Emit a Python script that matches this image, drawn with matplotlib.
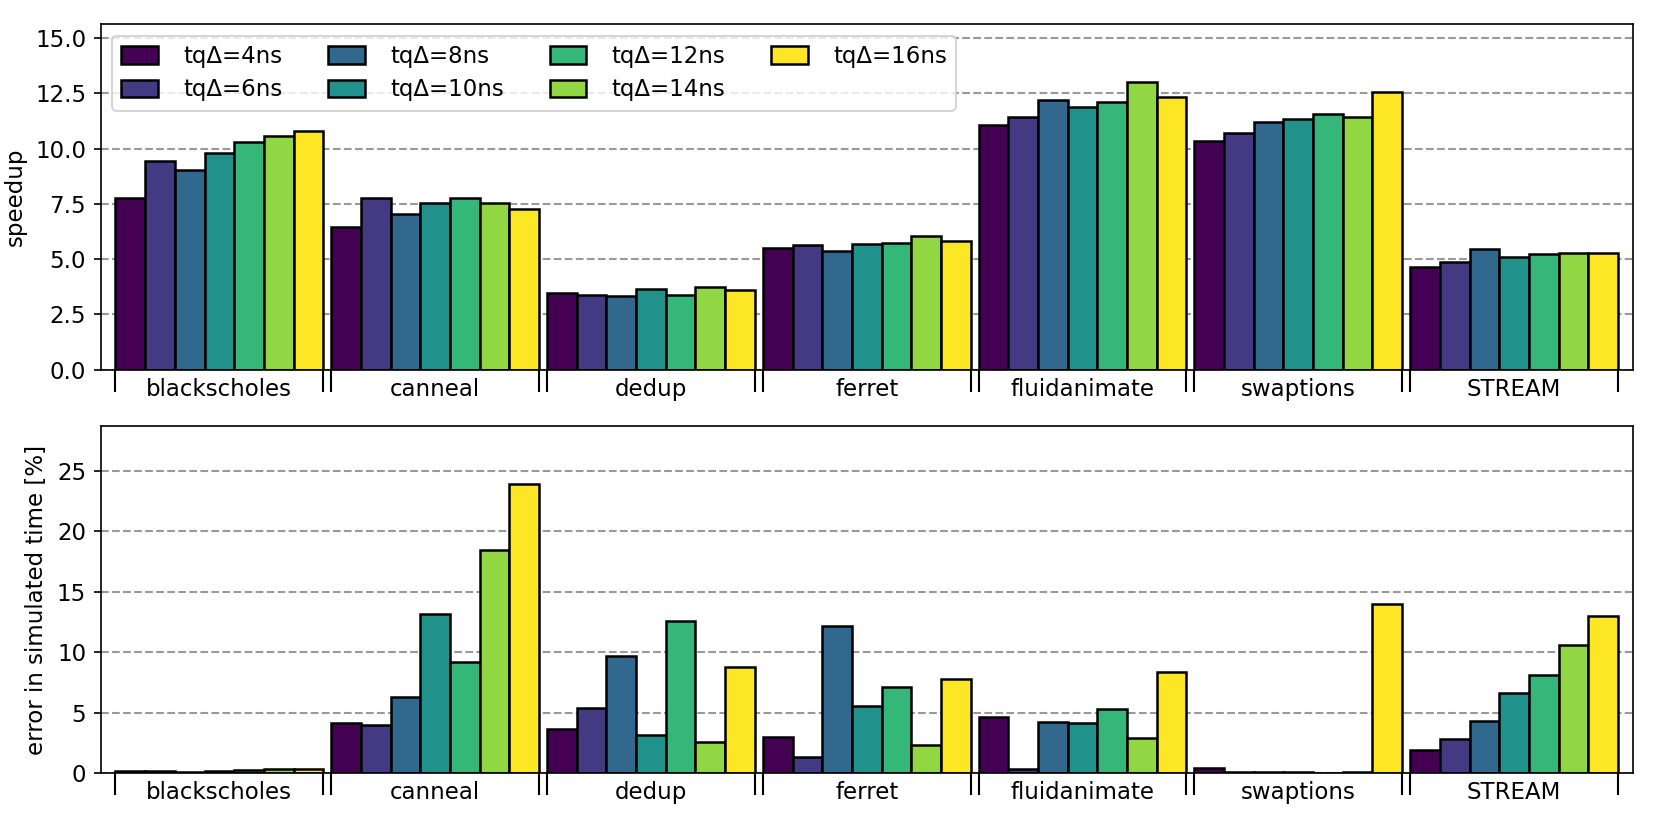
import numpy as np
import matplotlib
matplotlib.use("Agg")
import matplotlib.pyplot as plt
from matplotlib.ticker import MultipleLocator

plt.rcParams['font.size'] = 11

benchmarks = ["blackscholes", "canneal", "dedup", "ferret", "fluidanimate", "swaptions", "STREAM"]
quanta = ["tq\u0394=4ns", "tq\u0394=6ns", "tq\u0394=8ns", "tq\u0394=10ns",
          "tq\u0394=12ns", "tq\u0394=14ns", "tq\u0394=16ns"]

# speedup per benchmark, one list per quantum
speedup_4 = [7.79, 6.44, 3.46, 5.50, 11.07, 10.33, 4.64]
speedup_6 = [9.44, 7.75, 3.38, 5.62, 11.42, 10.73, 4.86]
speedup_8 = [9.02, 7.04, 3.34, 5.36, 12.19, 11.19, 5.48]
speedup_10 = [9.79, 7.54, 3.64, 5.68, 11.90, 11.33, 5.12]
speedup_12 = [10.30, 7.75, 3.40, 5.74, 12.10, 11.59, 5.23]
speedup_14 = [10.59, 7.54, 3.75, 6.07, 13.02, 11.44, 5.27]
speedup_16 = [10.80, 7.28, 3.61, 5.83, 12.33, 12.58, 5.29]

# error in simulated time [%]
error_4 = [0.20, 4.17, 3.67, 2.97, 4.61, 0.39, 1.94]
error_6 = [0.20, 4.00, 5.36, 1.33, 0.33, 0.05, 2.78]
error_8 = [0.10, 6.28, 9.67, 12.14, 4.19, 0.10, 4.28]
error_10 = [0.15, 13.19, 3.17, 5.58, 4.14, 0.10, 6.61]
error_12 = [0.28, 9.17, 12.56, 7.08, 5.28, 0.03, 8.11]
error_14 = [0.33, 18.50, 2.53, 2.28, 2.86, 0.10, 10.56]
error_16 = [0.35, 23.94, 8.75, 7.81, 8.33, 14.03, 13.03]

speedups = [speedup_4, speedup_6, speedup_8, speedup_10, speedup_12, speedup_14, speedup_16]
errors = [error_4, error_6, error_8, error_10, error_12, error_14, error_16]

colors = plt.cm.viridis(np.linspace(0, 1, len(quanta)))
x = np.arange(len(benchmarks))
width = 0.1375
n = len(quanta)
half = n * width / 2

fig = plt.figure(figsize=(1661 / 150, 830 / 150), dpi=150)
ax1 = fig.add_axes([0.0606, 0.5546, 0.983 - 0.0606, 0.9706 - 0.5546])
ax2 = fig.add_axes([0.0606, 0.0687, 0.983 - 0.0606, 0.4867 - 0.0687])


def draw(ax, data, ylabel, step):
    for i in range(n):
        ax.bar(x - half + width * (i + 0.5), data[i], width, color=colors[i],
               edgecolor="black", linewidth=1.2, label=quanta[i])
    ax.set_axisbelow(True)
    ax.yaxis.set_major_locator(MultipleLocator(step))
    ax.yaxis.grid(True, linestyle="--", color="#999999", linewidth=1)
    ax.set_ylabel(ylabel)
    ax.set_ylim(0, 1.2 * max(max(d) for d in data))
    ax.set_xlim(-0.55, len(benchmarks) - 0.45)
    edges = np.concatenate([x - half, x + half])
    ax.set_xticks(np.sort(edges))
    ax.set_xticklabels([])
    ax.tick_params(axis="x", which="major", length=10.5, width=1)
    ax.set_xticks(x, minor=True)
    ax.set_xticklabels(benchmarks, minor=True)
    ax.tick_params(axis="x", which="minor", length=0, pad=4)


draw(ax1, speedups, "speedup", 2.5)
draw(ax2, errors, "error in simulated time [%]", 5)
ax1.legend(loc="upper left", ncol=4, handlelength=1.6, handletextpad=1.1,
           labelspacing=0.45, handleheight=0.8)

fig.savefig("out.png", dpi=150)
